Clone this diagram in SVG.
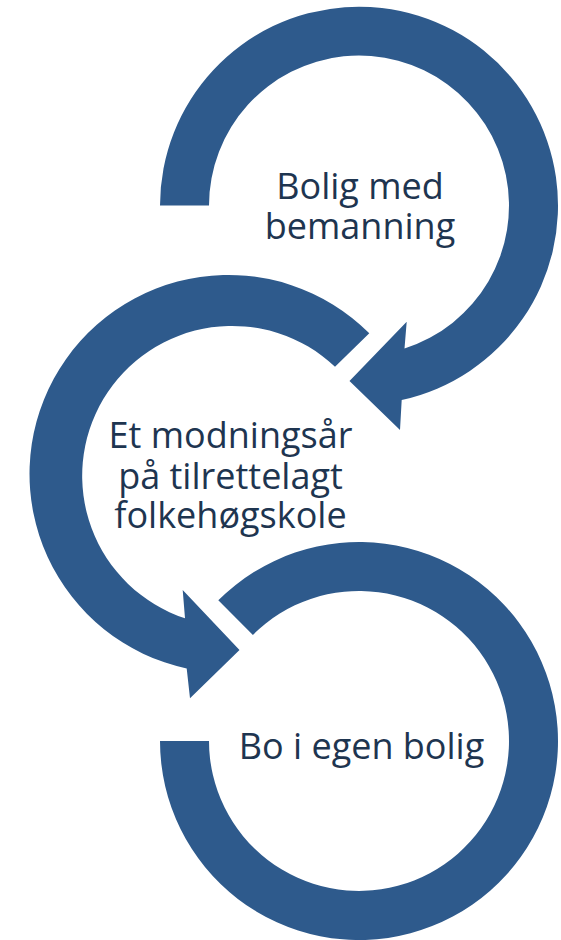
<svg xmlns="http://www.w3.org/2000/svg" width="561" height="940" viewBox="0 0 561 940">
  <style>
    .ring { fill: #2E5A8C; stroke: none; }
    .lbl { font-family: "Open Sans", "Noto Sans", "Liberation Sans", sans-serif; font-size: 36px; fill: #1E3550; text-anchor: middle; }
  </style>
  <rect width="561" height="940" fill="#FFFFFF"/>
  <g id="connectors"></g>
  <g id="node-1">
    <path class="ring" d="M160,205.5 A199,199 0 1,1 401.7,400 L400,430 L349.5,381 L406.7,321.7 L404.5,348.5 A150,150 0 1,0 209,205.5 Z"/>
    <text class="lbl" x="360" y="199">Bolig med</text>
    <text class="lbl" x="360" y="239">bemanning</text>
  </g>
  <g id="node-2">
    <path class="ring" d="M369.3,333.3 A199,199 0 1,0 186.7,668.5 L190,698.3 L239.5,650 L182.7,590 L185,618.3 A150,150 0 1,1 335,366.7 Z"/>
    <text class="lbl" x="230.5" y="448">Et modningsår</text>
    <text class="lbl" x="230.5" y="489">på tilrettelagt</text>
    <text class="lbl" x="230.5" y="528">folkehøgskole</text>
  </g>
  <g id="node-3">
    <path class="ring" d="M160,741 A199,199 0 1,0 218.3,600.3 L252.9,634.9 A150,150 0 1,1 209,741 Z"/>
    <text class="lbl" x="361.5" y="759">Bo i egen bolig</text>
  </g>
</svg>
